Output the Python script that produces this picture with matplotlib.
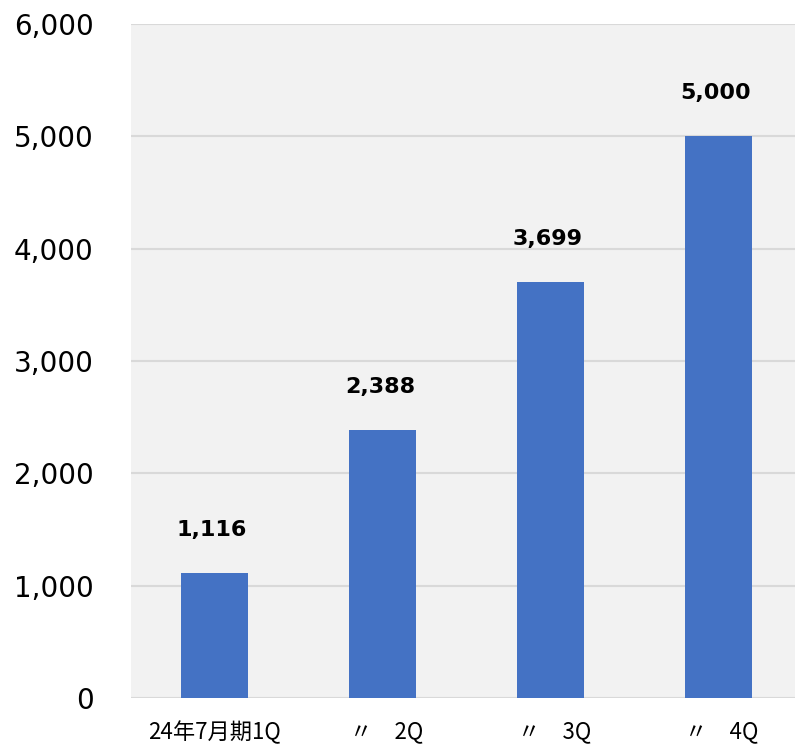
import matplotlib
matplotlib.use("Agg")
import matplotlib.pyplot as plt
from matplotlib.transforms import ScaledTranslation

categories = ["24年7月期1Q", "〃　2Q", "〃　3Q", "〃　4Q"]
values = [1116, 2388, 3699, 5000]
value_labels = ["1,116", "2,388", "3,699", "5,000"]
yticks = [0, 1000, 2000, 3000, 4000, 5000, 6000]
ytick_labels = ["0", "1,000", "2,000", "3,000", "4,000", "5,000", "6,000"]

plt.rcParams['font.family'] = ['DejaVu Sans', 'Noto Sans CJK JP']

fig = plt.figure(figsize=(7.95, 7.44), dpi=100)
W, H = 795, 744
left, right, top, bottom = 131, 802, 24, 698
ax = fig.add_axes([left / W, 1 - bottom / H, (right - left) / W, (bottom - top) / H])
ax.set_facecolor("#f2f2f2")

x = list(range(len(categories)))
ax.bar(x, values, width=0.4, color="#4472C4", zorder=3)
ax.set_xlim(-0.5, 3.5)
ax.set_ylim(0, 6000)
ax.set_yticks(yticks)
ax.set_yticklabels(ytick_labels, fontsize=20, color="#000000")
ax.set_xticks(x)
ax.set_xticklabels(categories, fontsize=16, family=['Noto Sans CJK JP', 'DejaVu Sans'])
ax.tick_params(axis='y', length=0, pad=27)
ax.tick_params(axis='x', length=0, pad=16)
for i, t in enumerate(ax.get_xticklabels()):
    if i > 0:
        t.set_transform(t.get_transform() + ScaledTranslation(4 / 100, 0, fig.dpi_scale_trans))
ax.grid(axis='y', color="#d9d9d9", linewidth=1.5, zorder=0)
for s in ax.spines.values():
    s.set_visible(False)

for xi, v, lab in zip(x, values, value_labels):
    ax.annotate(lab, (xi, v), xytext=(-2, 31), textcoords="offset points",
                ha="center", va="center", fontsize=16, fontweight="bold")

fig.savefig("out.png", dpi=100)
